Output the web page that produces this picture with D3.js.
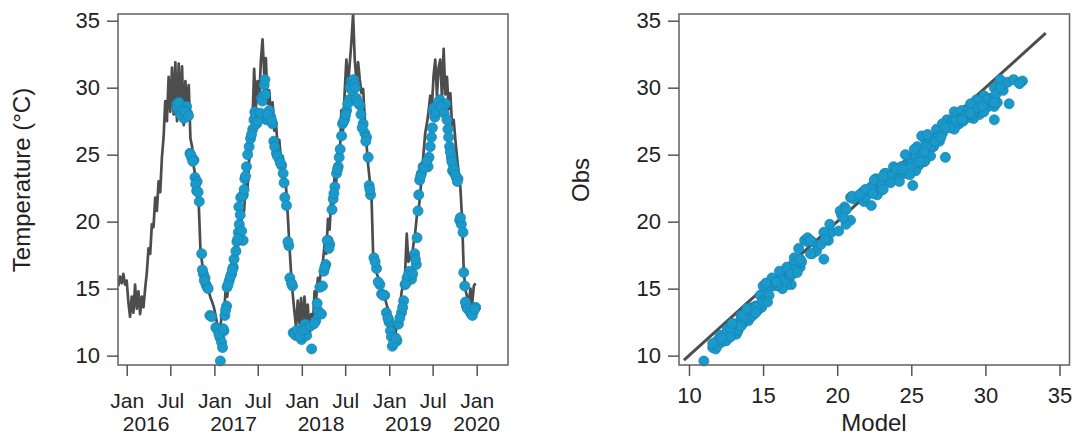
<!DOCTYPE html>
<html><head><meta charset="utf-8">
<script src="https://cdn.jsdelivr.net/npm/d3@7"></script>
<style>
body{margin:0;background:#fff}
text{font-family:"Liberation Sans",Arial,Helvetica,sans-serif;fill:#222}
</style>
</head><body>
<svg id="c" width="1077" height="436"></svg>
<script>
// ---------------- DATA ----------------
// Modelled temperature (line), one reading every 7 days from lineStart
const lineStart = "2015-11-27";
const lineStepDays = 7;
const lineValues = [
 15.2,15.9,15.4,16.1,15.3, 15.6,14.0,12.9,14.4,13.2,
 15.3,13.5,14.8,13.1,14.4,13.6,15.0,
 16.2,18.0,17.6,19.8,19.6,21.8,20.8,23.0,22.2,24.8,
 26.3,29.0,27.5,30.8,28.2,31.5,28.0,31.9,27.5,31.8,28.3,31.6,27.2,30.5,28.6,30.2,26.2,
 25.6,24.1,23.4,21.9,21.2,17.8,16.9,16.2,15.6,15.2,14.8,14.3,14.0,13.6,13.0,12.3,10.9,
 12.3,13.4,13.1,14.9,14.4,16.1,15.7,17.0,16.9,18.5,18.1,19.9,19.2,20.9,20.8,22.9,22.4,24.6,25.2,27.5,
 31.4,28.4,30.5,29.0,32.0,33.6,31.0,32.2,28.8,29.8,27.8,28.9,26.8,27.4,25.6,26.1,24.6,24.9,23.3,22.6,20.6,18.3,16.2,14.6,
 13.3,12.1,14.1,12.4,14.3,12.0,14.4,12.6,13.8,11.4,13.1,12.2,14.8,14.2,15.8,15.4,16.5,17.0,
 18.3,17.6,20.2,19.4,21.8,21.0,23.6,23.0,25.2,24.6,28.3,26.8,29.7,32.1,30.2,31.8,33.4,35.5,32.1,30.5,31.9,30.6,29.6,29.9,27.6,25.8,24.2,23.0,21.8,
 17.4,16.8,16.2,15.8,15.3,15.0,14.6,14.3,13.8,13.4,13.1,12.9,12.4,11.4,12.2,12.9,13.8,14.8,15.3,16.1,
 19.1,17.0,17.6,17.2,18.3,19.1,20.4,20.8,22.0,23.5,25.1,26.6,27.3,28.2,29.4,28.6,30.9,32.1,29.4,31.5,32.1,
 29.2,32.9,29.5,30.8,28.4,29.6,27.2,27.6,26.1,24.8,23.6,22.5,20.2,16.3,14.9,14.4,13.9,15.0,13.8,15.2,15.4
];

// Observations: dates, observed values, and model value at the same date
const obsDates = [
 "2016-07-28","2016-08-03","2016-08-10","2016-08-17","2016-08-27","2016-08-31","2016-09-07","2016-09-11",
 "2016-09-21","2016-09-28","2016-10-08","2016-10-12","2016-10-19","2016-10-21","2016-10-30","2016-11-09",
 "2016-11-16","2016-11-23","2016-11-27","2016-12-02","2016-12-13",
 "2017-01-07","2017-01-17","2017-01-24","2017-01-26","2017-01-31","2017-02-04","2017-02-10","2017-02-14",
 "2017-02-21","2017-02-23","2017-03-04","2017-03-14","2017-03-21","2017-03-24","2017-04-01","2017-04-11",
 "2017-04-13","2017-04-15","2017-04-21","2017-04-25","2017-05-01","2017-05-02","2017-05-08","2017-05-15",
 "2017-05-26","2017-06-01","2017-06-10","2017-06-15","2017-06-19","2017-06-26","2017-07-07","2017-07-17",
 "2017-07-24","2017-07-28","2017-07-31","2017-08-07","2017-08-18","2017-08-25","2017-09-01","2017-09-06",
 "2017-09-17","2017-09-28","2017-10-09","2017-10-15","2017-10-22","2017-10-29","2017-11-08","2017-11-12",
 "2017-11-23","2017-11-26","2017-12-07","2017-12-16","2017-12-31",
 "2018-01-07","2018-01-14","2018-01-21","2018-01-27","2018-02-11","2018-02-17","2018-02-28","2018-03-10",
 "2018-03-17","2018-03-24","2018-04-03","2018-04-11","2018-04-21","2018-04-28","2018-05-12","2018-05-19",
 "2018-05-26","2018-06-02","2018-06-06","2018-06-16","2018-06-20","2018-06-30","2018-07-07","2018-07-18",
 "2018-07-21","2018-07-26","2018-08-01","2018-08-05","2018-08-10","2018-08-17","2018-08-31","2018-09-14",
 "2018-09-21","2018-09-28","2018-10-05","2018-10-09","2018-10-15","2018-10-29","2018-11-09","2018-11-23",
 "2018-11-30","2018-12-13","2018-12-20","2018-12-31",
 "2019-01-06","2019-01-14","2019-01-24","2019-02-02","2019-02-08","2019-02-21","2019-03-02","2019-03-08",
 "2019-03-16","2019-03-27","2019-04-04","2019-04-17","2019-04-24","2019-04-27","2019-05-01","2019-05-08",
 "2019-05-15","2019-05-22","2019-06-02","2019-06-12","2019-06-16","2019-06-26","2019-07-03","2019-07-10",
 "2019-07-19","2019-07-31","2019-08-13","2019-08-25","2019-09-03","2019-09-10","2019-09-17","2019-09-22",
 "2019-09-24","2019-10-01","2019-10-08","2019-10-15","2019-10-22","2019-10-29","2019-11-05","2019-11-12",
 "2019-11-19","2019-11-26","2019-12-03","2019-12-10","2019-12-20","2019-12-28",
 // further observations
 "2016-07-31","2016-08-06","2016-08-13","2016-08-21","2016-09-03","2016-09-15","2016-09-24","2016-10-03",
 "2016-10-15","2016-10-25","2016-11-12","2016-11-20","2016-12-06","2016-12-20",
 "2017-01-12","2017-01-20","2017-02-07","2017-02-17","2017-02-27","2017-03-09","2017-03-17","2017-04-05",
 "2017-04-09","2017-04-19","2017-04-28","2017-05-05","2017-05-11","2017-05-20","2017-06-05","2017-06-22",
 "2017-07-02","2017-07-12","2017-07-20","2017-08-03","2017-08-12","2017-08-29","2017-09-10","2017-09-21",
 "2017-10-03","2017-10-19","2017-11-04","2017-11-19","2017-12-03","2017-12-12","2017-12-24",
 "2018-01-03","2018-01-17","2018-02-05","2018-02-22","2018-03-06","2018-03-28","2018-04-07","2018-04-17",
 "2018-04-24","2018-05-07","2018-05-15","2018-05-30","2018-06-10","2018-06-25","2018-07-03","2018-07-12",
 "2018-07-30","2018-08-13","2018-08-22","2018-09-05","2018-09-10","2018-09-25","2018-10-12","2018-11-03",
 "2018-11-16","2018-12-06","2018-12-26",
 "2019-01-10","2019-01-19","2019-01-29","2019-02-14","2019-02-26","2019-03-12","2019-03-22","2019-04-09",
 "2019-04-20","2019-05-04","2019-05-12","2019-05-27","2019-06-07","2019-06-21","2019-06-30","2019-07-06",
 "2019-07-15","2019-07-24","2019-08-06","2019-08-18","2019-08-30","2019-09-06","2019-09-13","2019-09-19",
 "2019-09-28","2019-10-04","2019-10-12","2019-10-25","2019-11-08","2019-11-15","2019-11-23","2019-12-06",
 "2019-12-14","2019-12-24"
];
const obsValues = [
 28.8,28.3,28.6,28.1,27.7,28.4,28.6,28.1,
 25.1,24.8,24.6,23.3,22.3,23.0,21.5,17.6,
 16.1,15.8,15.3,15.1,13.0,
 12.1,11.85,11.35,9.6,11.0,10.6,11.85,13.0,
 13.7,15.1,15.6,16.1,16.6,17.2,17.8,19.2,
 21.1,19.8,21.8,19.3,18.6,22.0,23.2,24.1,
 25.6,26.2,26.9,27.6,28.2,27.3,27.7,29.2,
 29.4,30.2,30.6,27.6,28.3,27.8,27.3,26.0,
 25.1,24.7,24.2,23.6,21.8,21.2,18.2,15.8,
 15.2,11.7,11.5,11.85,11.2,
 11.85,12.35,11.5,12.1,10.5,12.35,12.6,13.35,
 15.1,13.1,16.3,16.8,18.6,18.3,21.7,22.6,
 23.6,24.1,24.8,26.4,27.3,27.7,28.3,29.1,
 30.0,30.5,30.4,30.6,30.3,29.2,28.7,27.3,
 26.6,26.3,24.8,22.7,22.0,17.3,16.5,15.3,
 14.6,14.5,13.2,12.5,
 11.85,10.7,11.1,11.1,12.35,13.2,14.1,15.3,
 15.8,16.3,15.7,17.6,16.8,18.8,20.8,23.1,
 23.6,24.1,24.2,24.1,24.8,26.3,28.3,27.8,
 28.6,29.1,28.3,28.8,26.9,25.6,24.8,23.8,
 24.3,23.6,23.3,23.2,20.1,19.8,19.2,15.2,
 13.7,13.6,13.35,13.1,13.35,13.6,
 // further observations
 28.5,28.9,28.0,28.3,28.2,27.9,25.0,24.5,
 22.8,22.2,16.4,15.6,15.0,12.9,
 12.0,11.6,12.0,13.4,15.3,15.9,16.4,18.5,
 18.7,20.5,21.9,22.4,23.4,25.0,26.5,28.0,
 27.5,28.1,29.0,29.5,28.0,27.5,25.6,24.9,
 24.4,22.9,18.5,15.4,11.6,11.9,11.4,
 11.9,12.0,12.2,12.4,13.9,15.2,16.6,18.6,
 18.0,20.9,22.1,23.9,25.4,27.5,28.0,28.8,
 29.8,30.0,28.9,28.0,27.0,26.0,22.4,17.0,
 15.5,14.5,12.8,
 11.4,10.9,11.3,12.8,13.6,15.4,16.0,16.1,
 17.2,22.0,23.4,24.0,24.5,25.6,27.0,28.5,
 28.2,28.9,28.6,28.1,27.6,26.3,25.2,24.5,
 23.9,23.5,23.0,20.3,16.2,14.0,13.5,13.2,
 13.0,13.5
];
const modelValues = [
 30.2,29.4,30.6,28.9,29.2,29.9,29.0,28.4,
 26.0,25.2,25.6,24.1,22.9,23.6,21.8,18.3,
 16.6,16.2,16.9,15.4,13.8,
 13.0,12.7,12.4,11.0,12.2,11.6,12.9,13.5,
 14.6,15.3,15.8,16.4,17.5,19.1,18.6,19.6,
 20.5,19.5,20.9,20.1,19.4,21.6,22.6,23.8,
 25.4,25.9,26.7,27.4,27.9,28.2,28.6,30.3,
 29.9,30.9,31.0,30.6,29.7,28.8,28.1,26.9,
 25.9,25.1,24.6,23.3,21.9,22.3,18.7,16.5,
 15.7,13.1,12.6,13.3,12.3,
 12.9,13.6,12.1,13.2,11.8,13.1,14.0,14.3,
 15.2,14.4,16.1,17.3,17.8,18.9,21.1,22.3,
 23.2,24.4,24.9,25.7,27.1,27.8,28.4,29.4,
 30.6,32.5,31.5,31.9,32.3,30.3,29.6,28.2,
 27.1,26.2,27.3,25.1,22.7,17.1,16.9,16.0,
 15.1,14.8,14.1,13.4,
 12.6,11.9,12.5,11.9,13.0,14.0,15.0,16.6,
 15.6,17.2,16.3,18.2,17.0,18.0,20.2,22.5,
 23.9,24.3,25.5,24.8,25.3,26.8,28.8,28.9,
 30.2,30.1,29.3,31.6,27.9,26.5,25.7,25.3,
 25.0,24.6,24.0,23.8,20.9,20.6,19.1,16.0,
 14.5,14.9,14.2,13.7,14.6,14.3,
 // further observations
 29.8,30.8,29.6,29.3,29.5,28.6,25.8,25.9,
 23.0,21.7,17.1,16.5,16.3,14.2,
 12.8,13.2,12.6,14.0,16.0,16.8,16.9,18.0,
 19.2,20.3,21.0,21.9,23.6,24.6,26.1,28.8,
 27.8,29.2,29.5,30.7,29.0,28.5,26.3,26.3,
 25.4,23.6,18.3,15.2,12.4,12.9,12.8,
 13.3,12.8,13.5,12.9,14.9,15.0,16.6,18.2,
 17.4,20.6,22.4,24.0,25.2,28.0,29.0,29.0,
 31.2,31.0,30.5,29.1,27.6,26.6,23.1,17.6,
 15.9,15.4,13.9,
 12.8,11.6,12.2,13.7,14.5,15.2,16.9,16.9,
 17.5,21.5,23.1,24.9,25.9,26.0,27.3,29.5,
 29.9,30.6,29.8,29.0,28.4,27.0,25.9,25.6,
 24.4,24.9,24.2,20.4,17.3,15.3,14.1,14.5,
 13.6,13.9
];

// Axis ticks and labels
const tempTicks = [10,15,20,25,30,35];
const modelTicks = [10,15,20,25,30,35];
const monthTickDates = ["2016-01-01","2016-07-01","2017-01-01","2017-07-01","2018-01-01","2018-07-01","2019-01-01","2019-07-01","2020-01-01"];
const monthTickLabels = ["Jan","Jul","Jan","Jul","Jan","Jul","Jan","Jul","Jan"];
const yearLabels = ["2016","2017","2018","2019","2020"];
const yearLabelDates = ["2016-03-22","2017-03-22","2018-03-22","2019-03-22","2020-01-01"];
const oneToOne = [9.66, 34.07];

// ---------------- DRAWING ----------------
const parse = d3.utcParse("%Y-%m-%d");
const svg = d3.select("#c");
const FS = 22, FSX = 21, TFS = 24;
const DOT = "#1a9acb", DOTS = "#1684b2", LINE = "#4d4d4d", BOX = "#6a6a6a";

const L = {x0:118, x1:508, y0:14, y1:365};
const R = {x0:679, x1:1069.5, y0:14, y1:365};

const yL = d3.scaleLinear().domain([9.3,35.5]).range([L.y1, L.y0]);
const xL = d3.scaleUtc().domain([parse("2016-01-01"), parse("2020-01-01")]).range([126.7, 476.7]);
const xR = d3.scaleLinear().domain([10,35]).range([689, 1059.5]);
const yR = d3.scaleLinear().domain([9.3,35.5]).range([R.y1, R.y0]);

svg.append("clipPath").attr("id","clipL").append("rect")
  .attr("x",L.x0).attr("y",L.y0).attr("width",L.x1-L.x0).attr("height",L.y1-L.y0);

// time series line
const start = parse(lineStart);
const series = lineValues.map((v,i)=>({d:d3.utcDay.offset(start, i*lineStepDays), v}));
svg.append("path").datum(series)
  .attr("clip-path","url(#clipL)")
  .attr("fill","none").attr("stroke",LINE).attr("stroke-width",2.7).attr("stroke-linejoin","round")
  .attr("d", d3.line().x(d=>xL(d.d)).y(d=>yL(d.v)));

// observation dots
const obs = obsDates.map((d,i)=>({d:parse(d), o:obsValues[i], m:modelValues[i]}));
svg.append("g").selectAll("circle").data(obs).join("circle")
  .attr("cx",d=>xL(d.d)).attr("cy",d=>yL(d.o)).attr("r",5)
  .attr("fill",DOT).attr("stroke",DOTS).attr("stroke-width",0.8);

// scatter 1:1 line
svg.append("line")
  .attr("x1",xR(oneToOne[0])).attr("y1",yR(oneToOne[0]))
  .attr("x2",xR(oneToOne[1])).attr("y2",yR(oneToOne[1]))
  .attr("stroke",LINE).attr("stroke-width",3);

svg.append("g").selectAll("circle").data(obs).join("circle")
  .attr("cx",d=>xR(d.m)).attr("cy",d=>yR(d.o)).attr("r",5)
  .attr("fill",DOT).attr("stroke",DOTS).attr("stroke-width",0.8);

// boxes
[L,R].forEach(b=>svg.append("rect").attr("x",b.x0).attr("y",b.y0)
  .attr("width",b.x1-b.x0).attr("height",b.y1-b.y0)
  .attr("fill","none").attr("stroke",BOX).attr("stroke-width",1.6));

function styleAxis(fs){
  return g=>{
    g.select(".domain").remove();
    g.selectAll(".tick line").attr("stroke","#555").attr("stroke-width",1.5);
    g.selectAll(".tick text").attr("font-size",fs).attr("fill","#222")
     .attr("font-family","'Liberation Sans',Arial,sans-serif");
  };
}
// left axes
svg.append("g").attr("transform",`translate(${L.x0},0)`)
  .call(d3.axisLeft(yL).tickValues(tempTicks).tickSize(11).tickPadding(7)).call(styleAxis(FS));
svg.append("g").attr("transform",`translate(0,${L.y1})`)
  .call(d3.axisBottom(xL).tickValues(monthTickDates.map(parse))
     .tickFormat((d,i)=>monthTickLabels[i]).tickSize(11).tickPadding(17)).call(styleAxis(FSX));
svg.append("g").selectAll("text").data(yearLabels).join("text")
  .attr("x",(d,i)=>xL(parse(yearLabelDates[i]))).attr("y",431.3)
  .attr("text-anchor","middle").attr("font-size",FSX).text(d=>d);

// right axes
svg.append("g").attr("transform",`translate(${R.x0},0)`)
  .call(d3.axisLeft(yR).tickValues(tempTicks).tickSize(11).tickPadding(7)).call(styleAxis(FS));
svg.append("g").attr("transform",`translate(0,${R.y1})`)
  .call(d3.axisBottom(xR).tickValues(modelTicks).tickSize(11).tickPadding(11)).call(styleAxis(FS));

// titles
svg.append("text").attr("transform","translate(30,180) rotate(-90)")
  .attr("text-anchor","middle").attr("font-size",TFS).text("Temperature (°C)");
svg.append("text").attr("transform","translate(589,180) rotate(-90)")
  .attr("text-anchor","middle").attr("font-size",TFS).text("Obs");
svg.append("text").attr("x",874).attr("y",430.5)
  .attr("text-anchor","middle").attr("font-size",TFS).text("Model");
</script>
</body></html>
